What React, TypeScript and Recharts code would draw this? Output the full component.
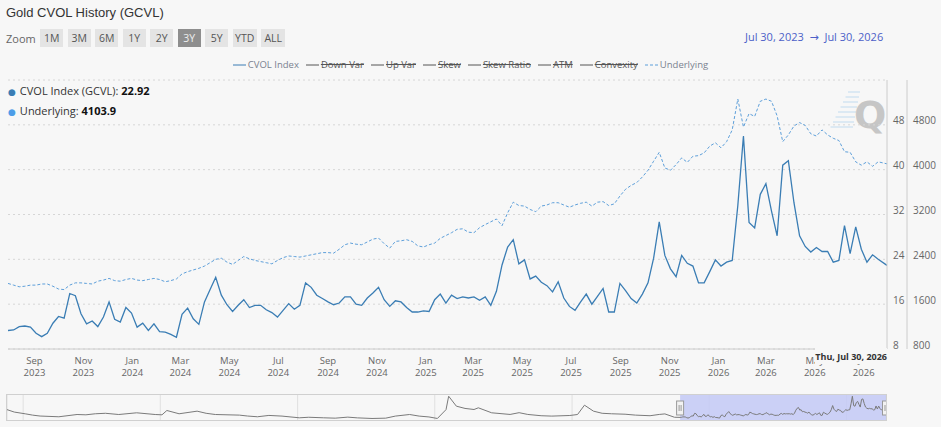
import React from 'react'
import { LineChart, Line, XAxis, YAxis, CartesianGrid, ReferenceArea, ReferenceLine } from 'recharts'

const DAY = 86400000
const START = Date.UTC(2023, 6, 30)
const END = Date.UTC(2026, 6, 30)
const NAV_START = Date.UTC(2013, 9, 7)

// weekly CVOL index, Jul 30 2023 -> Jul 30 2026
const CVOL = [
  11.3, 11.4, 12.0, 12.1, 11.9, 10.8, 10.2, 10.8, 12.6, 13.8, 13.5, 17.9, 17.5, 14.3, 12.5, 13.0,
  12.0, 13.7, 16.4, 13.3, 12.8, 15.4, 14.4, 11.9, 12.6, 11.3, 12.5, 11.1, 11.0, 10.6, 10.1, 14.2,
  15.3, 13.4, 12.4, 16.4, 18.6, 20.8, 17.6, 15.9, 14.7, 15.8, 16.8, 15.4, 15.8, 15.8, 15.0, 14.5,
  13.7, 14.9, 16.1, 15.1, 15.8, 19.8, 19.0, 17.6, 17.0, 16.4, 15.9, 16.2, 17.3, 17.3, 16.0, 15.8,
  17.1, 18.0, 19.0, 16.8, 15.6, 16.6, 16.4, 15.4, 14.6, 14.6, 14.8, 14.7, 16.8, 17.8, 16.2, 17.6,
  17.0, 17.3, 17.1, 17.3, 16.7, 17.3, 15.8, 18.3, 23.0, 26.2, 27.5, 23.2, 23.9, 20.5, 21.0, 19.9,
  19.3, 18.2, 20.0, 17.1, 15.6, 14.9, 16.4, 17.8, 16.0, 17.4, 18.8, 14.6, 14.6, 19.7, 18.4, 17.0,
  16.2, 17.8, 19.8, 24.2, 30.7, 24.7, 22.3, 20.9, 24.7, 23.3, 22.8, 19.8, 19.8, 21.8, 23.9, 22.8,
  23.5, 23.8, 33.6, 46.0, 30.6, 29.6, 35.6, 37.5, 32.6, 28.2, 40.8, 41.6, 34.1, 28.2, 26.3, 25.3,
  26.1, 25.4, 25.4, 23.5, 23.8, 30.0, 25.0, 29.8, 25.8, 23.5, 24.8, 24.0, 22.92,
]

// weekly gold futures close, same weeks
const UNDERLYING = [
  1970, 1940, 1910, 1920, 1940, 1940, 1960, 1960, 1920, 1870, 1860, 1940, 1980, 1980, 1970, 1960,
  2010, 2030, 2060, 2020, 2010, 2040, 2060, 2030, 2020, 2040, 2060, 2040, 2000, 2020, 2050, 2140,
  2180, 2210, 2240, 2280, 2340, 2400, 2420, 2350, 2310, 2380, 2450, 2410, 2380, 2360, 2340, 2320,
  2380, 2430, 2460, 2450, 2440, 2460, 2480, 2500, 2520, 2520, 2510, 2580, 2660, 2690, 2670, 2660,
  2710, 2760, 2780, 2680, 2600, 2720, 2730, 2750, 2720, 2640, 2620, 2660, 2690, 2775, 2825, 2875,
  2935, 2945, 2885, 2875, 2965, 3020, 3070, 3120, 3000, 3230, 3420, 3360, 3350, 3290, 3250, 3350,
  3370, 3410, 3410, 3370, 3330, 3370, 3400, 3420, 3350, 3420, 3430, 3360, 3390, 3530, 3650, 3720,
  3770, 3870, 3990, 4150, 4310, 4030, 3990, 4090, 4210, 4130, 4240, 4250, 4300, 4420, 4480, 4390,
  4500, 4710, 5260, 4760, 5000, 4950, 5220, 5260, 5220, 4960, 4500, 4620, 4780, 4840, 4790, 4640,
  4600, 4710, 4620, 4560, 4520, 4320, 4310, 4140, 4080, 4140, 4060, 4140, 4103.9,
]

// navigator history before the visible window
const HIST_DATES = [
  '2013-10-07', '2013-11-15', '2014-01-15', '2014-02-20', '2014-04-01', '2014-07-10', '2014-10-15',
  '2014-12-01', '2015-01-20', '2015-03-15', '2015-05-25', '2015-08-28', '2015-12-05', '2016-01-10',
  '2016-02-05', '2016-04-10', '2016-07-15', '2016-09-01', '2016-10-20', '2017-02-25', '2017-04-10',
  '2017-06-01', '2017-08-01', '2017-10-10', '2018-01-10', '2018-03-01', '2018-05-20', '2018-07-20',
  '2018-09-25', '2018-11-15', '2019-02-01', '2019-04-15', '2019-06-05', '2019-08-20', '2019-10-10',
  '2019-12-01', '2020-01-15', '2020-03-01', '2020-03-15', '2020-04-25', '2020-06-10', '2020-07-28',
  '2020-08-20', '2020-10-30', '2021-02-05', '2021-03-25', '2021-05-10', '2021-07-20', '2021-09-15',
  '2021-12-20', '2022-01-30', '2022-03-08', '2022-04-25', '2022-06-10', '2022-07-30', '2022-10-10',
  '2022-12-05', '2023-02-20', '2023-04-10', '2023-05-10', '2023-06-30',
]
const HIST_CVOL = [
  24, 20, 17, 15, 13.5, 12.3, 16, 15.5, 17.2, 18, 16, 18.8, 16, 15.5,
  22.6, 17.2, 21.5, 18, 16, 15, 13.5, 12.3, 14.5, 13.4, 10.6, 11.5, 10.6, 10,
  11.7, 10.5, 9.5, 10, 13.4, 16, 13.4, 12, 9.5, 24, 46, 29.7, 26, 24.2,
  27, 18.8, 16.1, 19, 16.1, 14, 13.4, 14.4, 16, 31.3, 21.5, 18, 17.2, 16.5,
  15, 14, 16.1, 17, 11.5,
]

const X_TICKS = [
  '2023-09-01', '2023-11-01', '2024-01-01', '2024-03-01', '2024-05-01', '2024-07-01', '2024-09-01',
  '2024-11-01', '2025-01-01', '2025-03-01', '2025-05-01', '2025-07-01', '2025-09-01', '2025-11-01',
  '2026-01-01', '2026-03-01', '2026-05-01', '2026-07-01',
].map((d) => Date.parse(d))
const NAV_TICKS = ['2014-01-01', '2016-01-01', '2018-01-01', '2020-01-01', '2022-01-01', '2024-01-01', '2026-01-01'].map((d) => Date.parse(d))
const CVOL_TICKS = [8, 16, 24, 32, 40, 48, 56]
const UND_TICKS = [800, 1600, 2400, 3200, 4000, 4800, 5600]

const RANGES = ['1M', '3M', '6M', '1Y', '2Y', '3Y', '5Y', 'YTD', 'ALL']
const LEGEND = ['CVOL Index', 'Down Var', 'Up Var', 'Skew', 'Skew Ratio', 'ATM', 'Convexity', 'Underlying']
const LEGEND_HIDDEN = [false, true, true, true, true, true, true, false]
const MONTHS = ['Jan', 'Feb', 'Mar', 'Apr', 'May', 'Jun', 'Jul', 'Aug', 'Sep', 'Oct', 'Nov', 'Dec']

const CVOL_COLOR = '#3a7db4'
const UND_COLOR = '#5d9fda'
const BG = '#f7f7f7'
const FONT = '"Open Sans", "DejaVu Sans", sans-serif'

const weeks = CVOL.map((_, i) => (i === CVOL.length - 1 ? END : START + i * 7 * DAY))
const mainData = weeks.map((t, i) => ({ t, cvol: CVOL[i], und: UNDERLYING[i] }))
const navData = [
  ...HIST_DATES.map((d, i) => ({ t: Date.parse(d), v: HIST_CVOL[i] })),
  ...weeks.map((t, i) => ({ t, v: CVOL[i] })),
]

const MonthTick = ({ x, y, payload }: any) => {
  const d = new Date(payload.value)
  return (
    <g fill="#666" fontSize={9.5} fontFamily={FONT}>
      <text x={x} y={y + 13} textAnchor="middle">{MONTHS[d.getUTCMonth()]}</text>
      <text x={x} y={y + 24.5} textAnchor="middle">{d.getUTCFullYear()}</text>
    </g>
  )
}

const rightTick = (top: number) => ({ x, y, payload }: any) =>
  payload.value === top ? <g /> : (
    <text x={x} y={y - 0.5} fill="#666" fontSize={10} fontFamily={FONT} textAnchor="start">{payload.value}</text>
  )

const NavTick = ({ x, y, payload }: any) => (
  <text x={x + 2} y={y - 3} fill="#999" fontSize={10} fontFamily={FONT}>{new Date(payload.value).getUTCFullYear()}</text>
)

const Handle = ({ viewBox }: any) => (
  <g>
    <rect x={viewBox.x - 3.5} y={viewBox.y + 6} width={7} height={14} fill="#f2f2f2" stroke="#999" strokeWidth={1} />
    <line x1={viewBox.x - 1} x2={viewBox.x - 1} y1={viewBox.y + 10} y2={viewBox.y + 16} stroke="#999" />
    <line x1={viewBox.x + 1} x2={viewBox.x + 1} y1={viewBox.y + 10} y2={viewBox.y + 16} stroke="#999" />
  </g>
)

export default function App() {
  return (
    <div style={{ position: 'absolute', left: 0, top: 0, width: 941, height: 427, background: BG, fontFamily: FONT, overflow: 'hidden' }}>
      <div style={{ position: 'absolute', left: 6, top: 5, fontSize: 13, color: '#333', fontFamily: '"Liberation Sans", Arial, sans-serif' }}>
        Gold CVOL History (GCVL)
      </div>

      <div style={{ position: 'absolute', left: 6, top: 29, height: 18, display: 'flex', alignItems: 'center', gap: 4.5 }}>
        <span style={{ fontSize: 11, color: '#666' }}>Zoom</span>
        {RANGES.map((r) => (
          <span
            key={r}
            style={{
              width: r.length > 2 ? 24 : 23, height: 18, lineHeight: '18px', textAlign: 'center', fontSize: 10.5,
              background: r === '3Y' ? '#8e8e8e' : '#e4e4e4', color: r === '3Y' ? '#eee' : '#555',
            }}
          >
            {r}
          </span>
        ))}
      </div>

      <div style={{ position: 'absolute', left: 745, top: 29, fontSize: 11, color: '#4c5fc8', whiteSpace: 'nowrap' }}>
        Jul 30, 2023 &nbsp;→&nbsp; Jul 30, 2026
      </div>

      <div style={{ position: 'absolute', left: 0, top: 58, width: 941, display: 'flex', justifyContent: 'center', gap: 7, fontSize: 9.5 }}>
        {LEGEND.map((name, i) => {
          const isUnd = name === 'Underlying'
          const c = LEGEND_HIDDEN[i] ? '#555' : isUnd ? UND_COLOR : CVOL_COLOR
          return (
            <span key={name} style={{ display: 'flex', alignItems: 'center', gap: 2 }}>
              <svg width={13} height={8}>
                <line x1={0} x2={13} y1={4} y2={4} stroke={c} strokeWidth={1} strokeDasharray={isUnd ? '3 2' : undefined} />
              </svg>
              <span style={{ color: LEGEND_HIDDEN[i] ? '#555' : '#7a8290', textDecoration: LEGEND_HIDDEN[i] ? 'line-through' : 'none' }}>{name}</span>
            </span>
          )
        })}
      </div>

      <div style={{ position: 'absolute', left: 8, top: 81, fontSize: 11, color: '#333', lineHeight: '19px' }}>
        <div><span style={{ color: CVOL_COLOR, fontSize: 9, marginRight: 4 }}>●</span>CVOL Index (GCVL): <b style={{ color: '#111' }}>22.92</b></div>
        <div><span style={{ color: '#4d9de8', fontSize: 9, marginRight: 4 }}>●</span>Underlying: <b style={{ color: '#111' }}>4103.9</b></div>
      </div>

      <svg style={{ position: 'absolute', left: 826, top: 86 }} width={60} height={50}>
        {[0, 1, 2, 3, 4, 5, 6, 7].map((k) => (
          <line key={k} x1={22 - k * 2.5} x2={34 - k * 1} y1={6 + k * 5} y2={6 + k * 5} stroke="#d3e4f2" strokeWidth={1.5} />
        ))}
        <text x={28} y={42} fontSize={38} fontWeight="bold" fill="#c6c6c6" fontFamily='"DejaVu Sans", sans-serif'>Q</text>
      </svg>

      <div style={{ position: 'absolute', left: 0, top: 0 }}>
        <LineChart width={941} height={385} data={mainData} margin={{ top: 80, right: 0, left: 8, bottom: 0 }}>
          <CartesianGrid yAxisId="cvol" vertical={false} stroke="#d6d6d6" strokeDasharray="2 3" />
          <XAxis
            dataKey="t" type="number" domain={[START, END]} ticks={X_TICKS} interval={0} height={36}
            axisLine={{ stroke: '#ccc' }} tickLine={false} tickSize={0} tick={<MonthTick />} allowDataOverflow
          />
          <YAxis
            yAxisId="cvol" orientation="right" width={20} domain={[8, 56]} ticks={CVOL_TICKS} interval={0}
            axisLine={{ stroke: '#ccc' }} tickLine={false} tickSize={0} tickMargin={6} tick={rightTick(56)}
          />
          <YAxis
            yAxisId="und" orientation="right" width={34} domain={[800, 5600]} ticks={UND_TICKS} interval={0}
            axisLine={{ stroke: '#ccc' }} tickLine={false} tickSize={0} tickMargin={6} tick={rightTick(5600)}
          />
          <Line yAxisId="und" dataKey="und" type="linear" stroke={UND_COLOR} strokeWidth={1} strokeDasharray="3 2" dot={false} isAnimationActive={false} />
          <Line yAxisId="cvol" dataKey="cvol" type="linear" stroke={CVOL_COLOR} strokeWidth={1.3} dot={false} isAnimationActive={false} />
        </LineChart>
      </div>

      {/* crosshair date label at the last point, sits over the axis labels */}
      <div style={{ position: 'absolute', left: 815, top: 348, width: 72, height: 16, background: BG, color: '#333', fontSize: 9, fontWeight: 'bold', textAlign: 'right', lineHeight: '17px', whiteSpace: 'nowrap' }}>
        Thu, Jul 30, 2026
      </div>

      <div style={{ position: 'absolute', left: 6, top: 394, width: 881, height: 27, border: '1px solid #d0d0d0', boxSizing: 'border-box' }}>
        <LineChart width={879} height={25} data={navData} margin={{ top: 0, right: 0, left: 0, bottom: 0 }}>
          <CartesianGrid horizontal={false} stroke="#e0e0e0" />
          <XAxis
            dataKey="t" type="number" domain={[NAV_START, END]} ticks={NAV_TICKS} interval={0} mirror height={0}
            axisLine={false} tickLine={false} tickSize={0} tick={<NavTick />} allowDataOverflow
          />
          <YAxis hide domain={[7, 48]} />
          <ReferenceArea x1={START} x2={END} fill="#c3c9f6" fillOpacity={0.85} stroke="none" />
          <Line dataKey="v" type="linear" stroke="#7a7a7a" strokeWidth={1} dot={false} isAnimationActive={false} />
          <ReferenceLine x={START} stroke="none" label={Handle} />
          <ReferenceLine x={END} stroke="none" label={Handle} />
        </LineChart>
      </div>
    </div>
  )
}
